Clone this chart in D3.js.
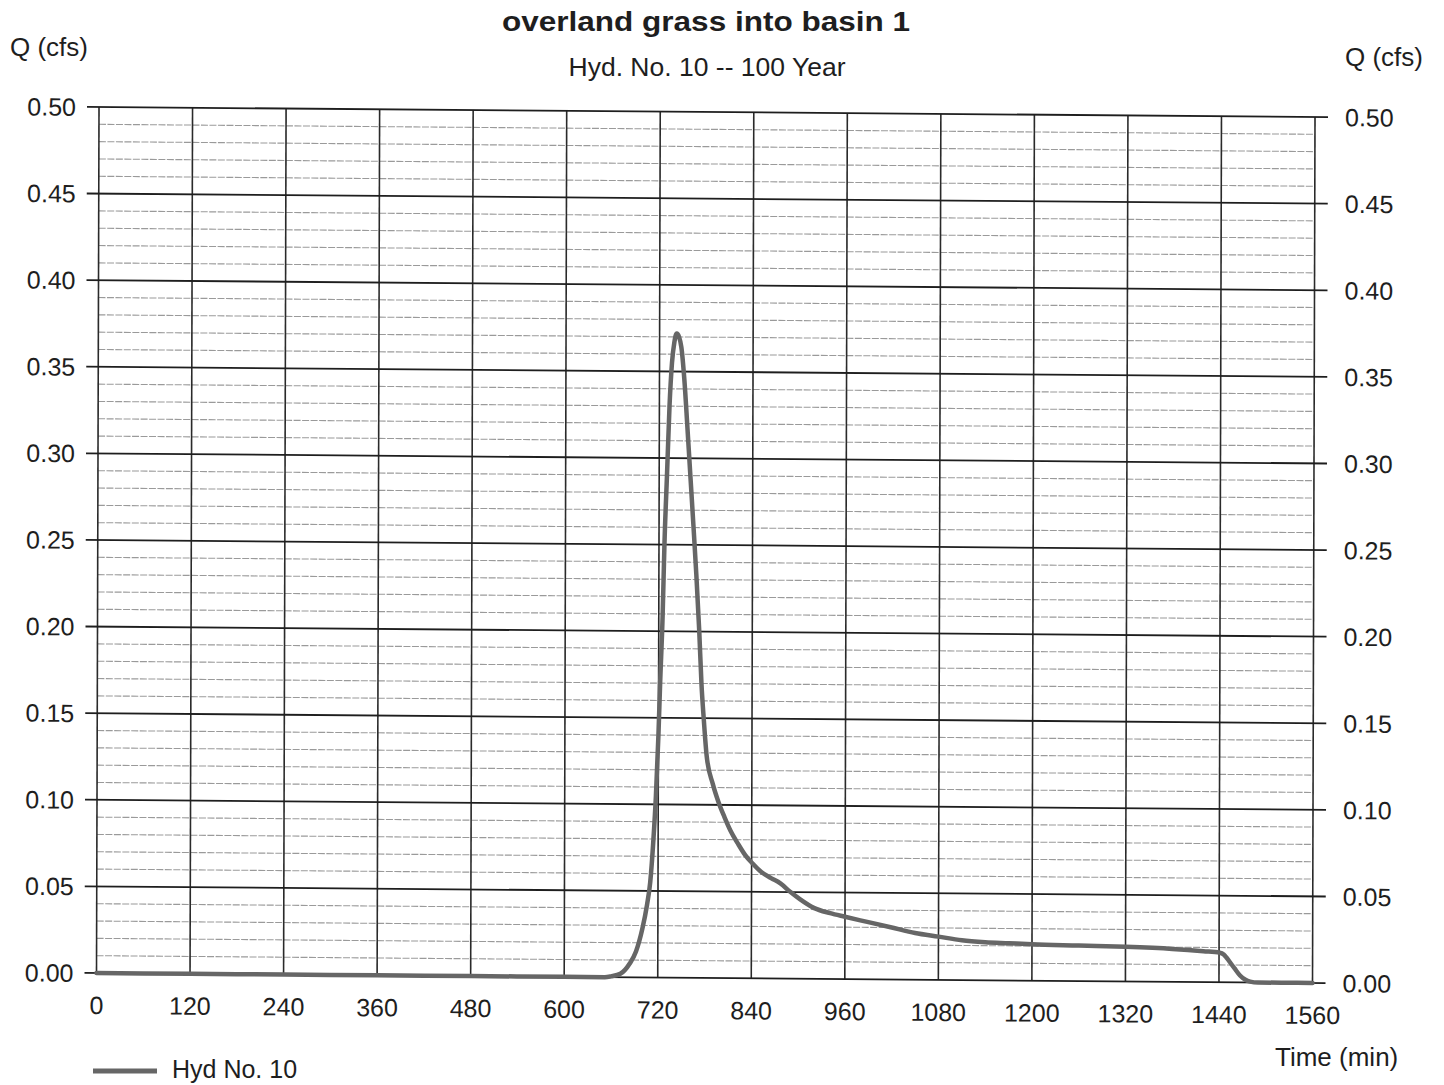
<!DOCTYPE html>
<html>
<head>
<meta charset="utf-8">
<script src="https://cdn.jsdelivr.net/npm/d3@7"></script>
<style>
  html, body { margin: 0; padding: 0; background: #fff; }
  svg { display: block; }
  text { font-family: "Liberation Sans", Arial, sans-serif; fill: #1e1e1e; }
</style>
</head>
<body>
<svg id="chart" width="1444" height="1085"></svg>
<script>
// ---- data ----
const times = [0, 120, 240, 360, 480, 600, 652, 660, 672, 684, 692, 700, 706, 710, 714, 717, 720, 722, 725, 727, 730, 733, 736, 739, 742, 745, 748, 752, 756, 760, 764, 768, 772, 775, 778, 782, 790, 797, 805, 813, 822, 832, 842, 851, 865, 877, 890, 902, 920, 941, 960, 990, 1020, 1050, 1080, 1110, 1140, 1170, 1200, 1260, 1320, 1380, 1420, 1441, 1446, 1450, 1455, 1460, 1467, 1474, 1480, 1490, 1520, 1560];
const flows = [0, 0, 0, 0, 0, 0, 0, 0.0005, 0.002, 0.008, 0.015, 0.028, 0.042, 0.055, 0.08, 0.105, 0.14, 0.17, 0.21, 0.25, 0.29, 0.33, 0.355, 0.367, 0.372, 0.370, 0.364, 0.345, 0.318, 0.29, 0.262, 0.233, 0.2, 0.17, 0.15, 0.128, 0.112, 0.102, 0.093, 0.085, 0.078, 0.071, 0.066, 0.062, 0.058, 0.055, 0.050, 0.046, 0.041, 0.038, 0.036, 0.033, 0.030, 0.027, 0.025, 0.023, 0.022, 0.0215, 0.021, 0.0205, 0.020, 0.019, 0.0178, 0.017, 0.016, 0.014, 0.011, 0.008, 0.004, 0.0015, 0.0005, 0, 0, 0];
const xTicks = [0, 120, 240, 360, 480, 600, 720, 840, 960, 1080, 1200, 1320, 1440, 1560];
const yMajorTicks = [0, 0.05, 0.10, 0.15, 0.20, 0.25, 0.30, 0.35, 0.40, 0.45, 0.50];
const yMinorStep = 0.01;
const titleText = "overland grass into basin 1";
const subtitleText = "Hyd. No. 10 -- 100 Year";
const yLabelText = "Q (cfs)";
const xLabelText = "Time (min)";
const seriesName = "Hyd No. 10";

// ---- layout ----
const svg = d3.select("#chart");
const W = 1216, H = 866;
const x = d3.scaleLinear().domain([0, 1560]).range([0, W]);
const y = d3.scaleLinear().domain([0, 0.5]).range([0, -H]);

// slightly skewed like the scanned page
const g = svg.append("g")
  .attr("transform", "translate(96.5,973) matrix(1,0.0082,-0.0029,1,0,0)");

// minor horizontal grid
const minors = d3.range(0, 0.5 + 1e-9, yMinorStep).filter(v => Math.abs(v / 0.05 - Math.round(v / 0.05)) > 1e-6);
g.append("g").selectAll("line").data(minors).join("line")
  .attr("x1", x(0)).attr("x2", x(1560))
  .attr("y1", d => y(d)).attr("y2", d => y(d))
  .attr("stroke", "#9a9a9a").attr("stroke-width", 1.1)
  .attr("stroke-dasharray", "7,1.5");

// vertical grid
g.append("g").selectAll("line").data(xTicks).join("line")
  .attr("x1", d => x(d)).attr("x2", d => x(d))
  .attr("y1", y(0)).attr("y2", y(0.5))
  .attr("stroke", "#2a2a2a").attr("stroke-width", 1.6);

// major horizontal grid with outer ticks
g.append("g").selectAll("line").data(yMajorTicks).join("line")
  .attr("x1", x(0) - 12).attr("x2", x(1560) + 13)
  .attr("y1", d => y(d)).attr("y2", d => y(d))
  .attr("stroke", "#1e1e1e").attr("stroke-width", 1.8);

// left tick labels
g.append("g").selectAll("text").data(yMajorTicks).join("text")
  .attr("x", x(0) - 23).attr("y", d => y(d)).attr("dy", "0.36em")
  .attr("text-anchor", "end").attr("font-size", 25)
  .text(d => d.toFixed(2));

// right tick labels
g.append("g").selectAll("text").data(yMajorTicks).join("text")
  .attr("x", x(1560) + 30).attr("y", d => y(d)).attr("dy", "0.36em")
  .attr("text-anchor", "start").attr("font-size", 25)
  .text(d => d.toFixed(2));

// bottom tick labels
g.append("g").selectAll("text").data(xTicks).join("text")
  .attr("x", d => x(d)).attr("y", 41)
  .attr("text-anchor", "middle").attr("font-size", 25)
  .text(d => d);

// hydrograph
const pts = times.map((t, i) => [t, flows[i]]);
const line = d3.line().x(d => x(d[0])).y(d => y(d[1])).curve(d3.curveMonotoneX);
g.append("path").datum(pts)
  .attr("d", line)
  .attr("fill", "none").attr("stroke", "#666").attr("stroke-width", 4.5)
  .attr("stroke-linejoin", "round").attr("stroke-linecap", "round");

// titles
svg.append("text").attr("x", 706).attr("y", 31)
  .attr("text-anchor", "middle").attr("font-size", 27).attr("font-weight", "bold")
  .attr("textLength", 408).attr("lengthAdjust", "spacingAndGlyphs")
  .text(titleText);
svg.append("text").attr("x", 707).attr("y", 76)
  .attr("text-anchor", "middle").attr("font-size", 26.5)
  .text(subtitleText);

// axis titles
svg.append("text").attr("x", 10).attr("y", 56).attr("font-size", 26).text(yLabelText);
svg.append("text").attr("x", 1345).attr("y", 66).attr("font-size", 26).text(yLabelText);
svg.append("text").attr("x", 1275).attr("y", 1066).attr("font-size", 26).text(xLabelText);

// legend
svg.append("line").attr("x1", 93).attr("x2", 157).attr("y1", 1071).attr("y2", 1071)
  .attr("stroke", "#666").attr("stroke-width", 5);
svg.append("text").attr("x", 172).attr("y", 1078).attr("font-size", 25).text(seriesName);
</script>
</body>
</html>
